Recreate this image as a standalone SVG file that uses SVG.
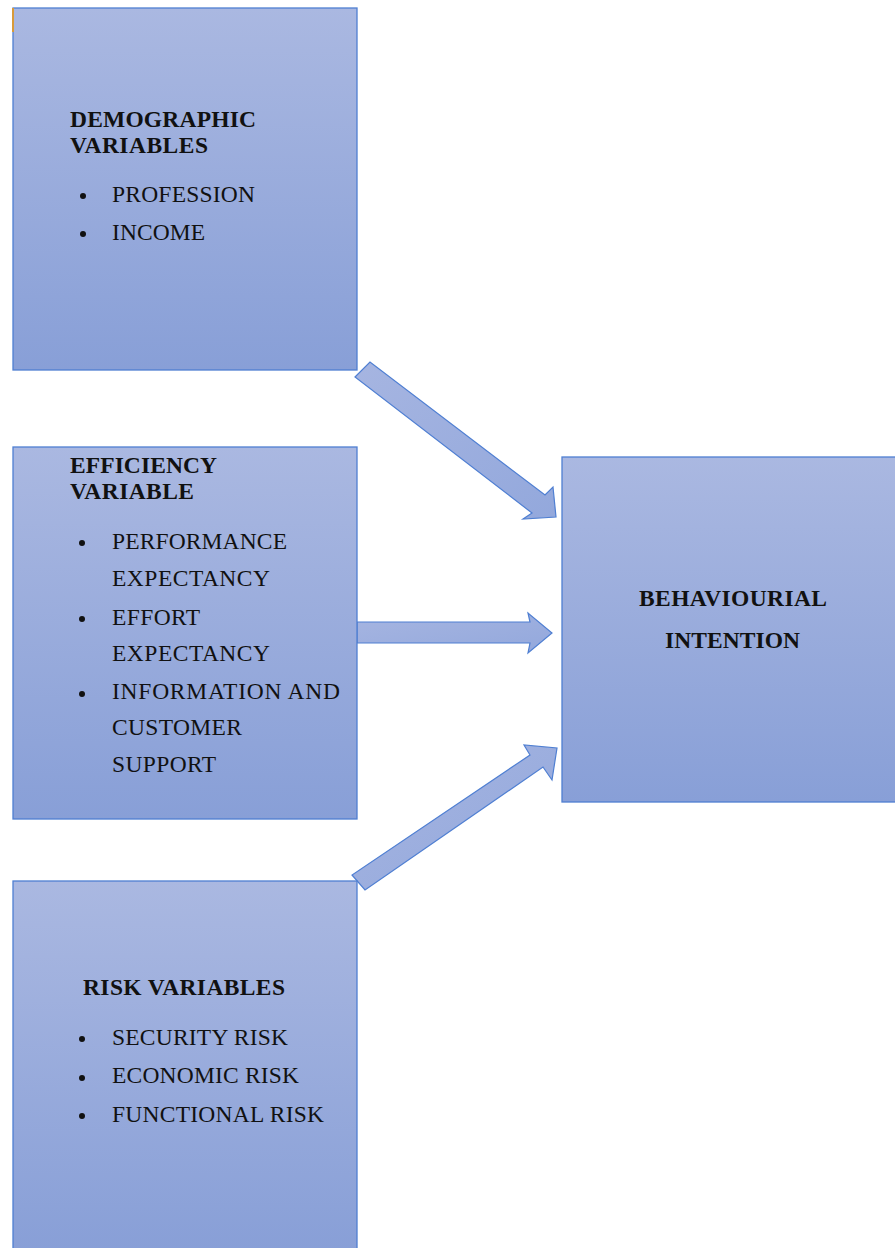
<svg xmlns="http://www.w3.org/2000/svg" width="895" height="1248" viewBox="0 0 895 1248">
<defs>
<linearGradient id="boxg" x1="0" y1="0" x2="0" y2="1">
<stop offset="0" stop-color="#AAB8E1"/>
<stop offset="1" stop-color="#889FD7"/>
</linearGradient>
<linearGradient id="arrg" x1="0" y1="0" x2="1" y2="1">
<stop offset="0" stop-color="#A6B5E1"/>
<stop offset="1" stop-color="#93A8DC"/>
</linearGradient>
<style>
.box{fill:url(#boxg);stroke:#4F7FD2;stroke-width:1.3}
.arr{fill:url(#arrg);stroke:#4F7FD2;stroke-width:1.2;stroke-linejoin:miter}
.t{font-family:"Liberation Serif","Times New Roman",serif;font-size:23.5px;fill:#111}
.b{font-weight:bold}
.dot{fill:#111}
</style>
</defs>
<rect width="895" height="1248" fill="#ffffff"/>
<g id="connectors">
<polygon class="arr" points="355,377 370,362 545,495 553,487 556,517 523,519 532,513"/>
<polygon class="arr" points="357,622 530,622 528,613 552,633 528,653 530,643 357,643"/>
<polygon class="arr" points="352,875 365,890 543,767 552,780 557,748 524,745 530,755"/>
</g>
<g id="node-demographic">
<rect class="box" x="13" y="8" width="344" height="362"/>
<rect x="12" y="8" width="2" height="24" fill="#D89A3A"/>
<text class="t b" x="70" y="127" textLength="186" lengthAdjust="spacing">DEMOGRAPHIC</text>
<text class="t b" x="70" y="153" textLength="138" lengthAdjust="spacing">VARIABLES</text>
<circle class="dot" cx="83" cy="196" r="3"/>
<text class="t" x="112" y="202" textLength="143" lengthAdjust="spacing">PROFESSION</text>
<circle class="dot" cx="83" cy="234" r="3"/>
<text class="t" x="112" y="240" textLength="93" lengthAdjust="spacing">INCOME</text>
</g>
<g id="node-efficiency">
<rect class="box" x="13" y="447" width="344" height="372"/>
<text class="t b" x="70" y="473" textLength="147" lengthAdjust="spacing">EFFICIENCY</text>
<text class="t b" x="70" y="499" textLength="124" lengthAdjust="spacing">VARIABLE</text>
<circle class="dot" cx="82" cy="543" r="3"/>
<text class="t" x="112" y="549" textLength="175" lengthAdjust="spacing">PERFORMANCE</text>
<text class="t" x="112" y="586" textLength="158" lengthAdjust="spacing">EXPECTANCY</text>
<circle class="dot" cx="82" cy="619" r="3"/>
<text class="t" x="112" y="625" textLength="88" lengthAdjust="spacing">EFFORT</text>
<text class="t" x="112" y="661" textLength="158" lengthAdjust="spacing">EXPECTANCY</text>
<circle class="dot" cx="82" cy="694" r="3"/>
<text class="t" x="112" y="699" textLength="228" lengthAdjust="spacing">INFORMATION  AND</text>
<text class="t" x="112" y="735" textLength="130" lengthAdjust="spacing">CUSTOMER</text>
<text class="t" x="112" y="772" textLength="104" lengthAdjust="spacing">SUPPORT</text>
</g>
<g id="node-risk">
<rect class="box" x="13" y="881" width="344" height="370"/>
<text class="t b" x="83" y="995" textLength="202" lengthAdjust="spacing">RISK VARIABLES</text>
<circle class="dot" cx="82" cy="1039" r="3"/>
<text class="t" x="112" y="1045" textLength="176" lengthAdjust="spacing">SECURITY RISK</text>
<circle class="dot" cx="82" cy="1078" r="3"/>
<text class="t" x="112" y="1083" textLength="187" lengthAdjust="spacing">ECONOMIC RISK</text>
<circle class="dot" cx="82" cy="1116" r="3"/>
<text class="t" x="112" y="1122" textLength="212" lengthAdjust="spacing">FUNCTIONAL RISK</text>
</g>
<g id="node-behavioural">
<rect class="box" x="562" y="457" width="340" height="345"/>
<text class="t b" x="639" y="606" textLength="188" lengthAdjust="spacing">BEHAVIOURIAL</text>
<text class="t b" x="665" y="648" textLength="135" lengthAdjust="spacing">INTENTION</text>
</g>
</svg>
